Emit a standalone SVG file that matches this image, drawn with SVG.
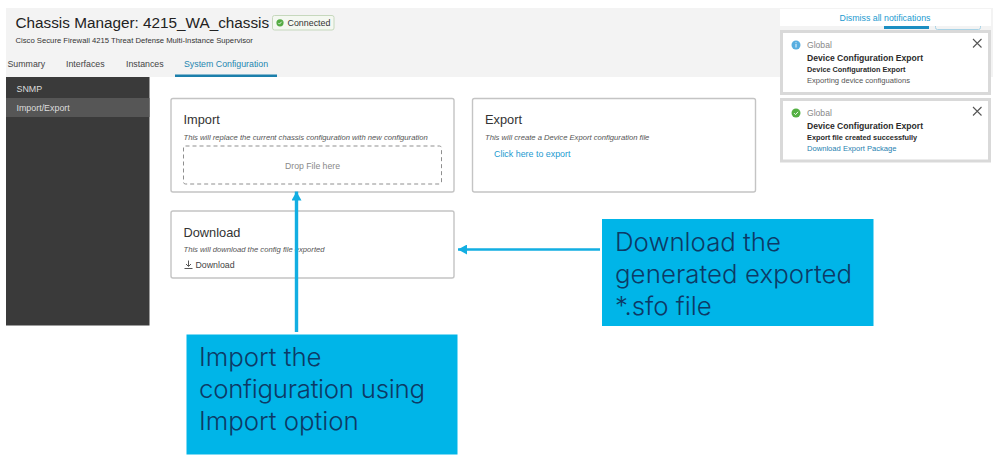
<svg xmlns="http://www.w3.org/2000/svg" width="999" height="457" viewBox="0 0 999 457">
<style>
text{font-family:"Liberation Sans",Arial,sans-serif}
.card{fill:#fff;stroke:#c4c4c4;stroke-width:1.4}
.h{font-size:12.8px;fill:#333}
.it{font-size:7.65px;font-style:italic;fill:#555}
.tab{font-size:8.8px;fill:#444}
.side{font-size:8.9px;fill:#ddd}
.link{fill:#1c9ad0}
.b{font-weight:bold;fill:#2b2b2b}
.note{fill:#fff;stroke:#d9d9d9;stroke-width:3}
.x{stroke:#555;stroke-width:1.1;fill:none}
.call{fill:#00b5e8}
.ct{font-family:"Inter","Open Sans",sans-serif;font-size:25.8px;fill:#0d3a66;font-weight:300}
.arrow{stroke:#12aee2;fill:none}
</style>
<defs>
<marker id="ah" markerUnits="userSpaceOnUse" markerWidth="9" markerHeight="10" refX="9" refY="5" orient="auto"><path d="M0 0L9 5L0 10Z" fill="#12aee2"/></marker>
</defs>
<rect x="0" y="0" width="999" height="457" fill="#fff"/>
<g id="header">
<rect x="6" y="8" width="987" height="69" fill="#f3f3f3"/>
<text x="15.500" y="28" font-size="15.300" fill="#222">Chassis Manager: 4215_WA_chassis</text>
<rect x="272.500" y="15.500" width="61.500" height="14.500" rx="2" fill="#f4f8f1" stroke="#c6d8bd"/>
<circle cx="280" cy="22.800" r="3.600" fill="#54ab42"/>
<path d="M278.300 22.900l1.200 1.200 2.200-2.400" stroke="#fff" stroke-width="0.800" fill="none"/>
<text x="287.500" y="26.300" font-size="8.900" fill="#333">Connected</text>
<text x="15.500" y="42.500" font-size="7.700" fill="#333">Cisco Secure Firewall 4215 Threat Defense Multi-Instance Supervisor</text>
<text x="7.500" y="66.500" class="tab">Summary</text>
<text x="66" y="66.500" class="tab">Interfaces</text>
<text x="126" y="66.500" class="tab">Instances</text>
<text x="184" y="66.500" font-size="8.800" fill="#1e86b0">System Configuration</text>
<rect x="175" y="74.500" width="102" height="2.500" fill="#1b7fab"/>
</g>
<g id="sidebar">
<rect x="6" y="77" width="143.500" height="248.500" fill="#3a3a3a"/>
<rect x="6" y="98" width="143.500" height="19" fill="#565656"/>
<text x="16.500" y="92" class="side">SNMP</text>
<text x="16.500" y="110.500" class="side">Import/Export</text>
</g>
<g id="import-card">
<rect class="card" x="171" y="98.500" width="283" height="93.500" rx="2"/>
<text x="183.500" y="124" class="h">Import</text>
<text x="183.500" y="139.500" class="it">This will replace the current chassis configuration with new configuration</text>
<rect x="183.500" y="146" width="258" height="38" rx="2" fill="none" stroke="#8f8f8f" stroke-width="1" stroke-dasharray="4 3"/>
<text x="312.500" y="168.500" font-size="8.700" fill="#888" text-anchor="middle">Drop File here</text>
</g>
<g id="export-card">
<rect class="card" x="472.500" y="98.500" width="283" height="93.500" rx="2"/>
<text x="485" y="124" class="h">Export</text>
<text x="485" y="139.500" class="it">This will create a Device Export configuration file</text>
<text x="494" y="157" font-size="8.900" class="link">Click here to export</text>
</g>
<g id="download-card">
<rect class="card" x="171" y="211" width="283" height="67" rx="2"/>
<text x="183.500" y="237" class="h">Download</text>
<text x="183.500" y="252" class="it">This will download the config file exported</text>
<path d="M188.500 260.500v5.500M186 264l2.500 2.500 2.500-2.500M184.500 268.500h8" stroke="#444" stroke-width="0.900" fill="none"/>
<text x="195.500" y="267.500" font-size="8.800" fill="#444">Download</text>
</g>
<g id="notifications">
<rect x="780" y="9" width="211" height="17" fill="#fff"/>
<text x="885" y="21" font-size="8.800" fill="#1c9ad0" text-anchor="middle">Dismiss all notifications</text>
<rect x="884" y="26" width="45" height="3" fill="#1b8ec2"/>
<path d="M935.500 26v1.500q0 2 2 2h41q2 0 2-2V26" fill="none" stroke="#a9d3e6"/>
<g id="notice-info">
<rect class="note" x="781.500" y="31.500" width="208" height="62"/>
<circle cx="796" cy="45" r="4.500" fill="#58aee0"/>
<path d="M796 44v3.500M796 42.300v.9" stroke="#fff" stroke-width="0.900" fill="none"/>
<text x="807" y="48" font-size="8.600" fill="#888">Global</text>
<text x="807" y="60.500" font-size="8.600" class="b">Device Configuration Export</text>
<text x="807" y="71.500" font-size="7.300" class="b">Device Configuration Export</text>
<text x="807" y="82.500" font-size="7.600" fill="#555">Exporting device configuations</text>
<path class="x" d="M973 39l8.500 8.500M981.500 39L973 47.500"/>
</g>
<g id="notice-success">
<rect class="note" x="781.500" y="99.500" width="208" height="61.500"/>
<circle cx="796" cy="113" r="4.500" fill="#54b043"/>
<path d="M794 113.100l1.500 1.500 2.600-2.800" stroke="#fff" stroke-width="0.900" fill="none"/>
<text x="807" y="116" font-size="8.600" fill="#888">Global</text>
<text x="807" y="128.500" font-size="8.600" class="b">Device Configuration Export</text>
<text x="807" y="139.500" font-size="7.350" class="b">Export file created successfully</text>
<text x="807" y="150.500" font-size="7.600" fill="#1f7fb0">Download Export Package</text>
<path class="x" d="M973 107l8.500 8.500M981.500 107L973 115.500"/>
</g>
</g>
<g id="connectors">
<path class="arrow" stroke-width="3.400" d="M296.500 332V191.500" marker-end="url(#ah)"/>
<path class="arrow" stroke-width="2.600" d="M600 249.500H458" marker-end="url(#ah)"/>
</g>
<g id="callout-import">
<rect class="call" x="186.500" y="334.500" width="271" height="120"/>
<text class="ct" x="199" y="366">Import the</text>
<text class="ct" x="199" y="398" textLength="226">configuration using</text>
<text class="ct" x="199" y="430">Import option</text>
</g>
<g id="callout-download">
<rect class="call" x="602" y="219" width="271.500" height="107"/>
<text class="ct" x="615" y="250.500">Download the</text>
<text class="ct" x="615" y="282.500" textLength="237">generated exported</text>
<text class="ct" x="615" y="314.500">*.sfo file</text>
</g>
</svg>
